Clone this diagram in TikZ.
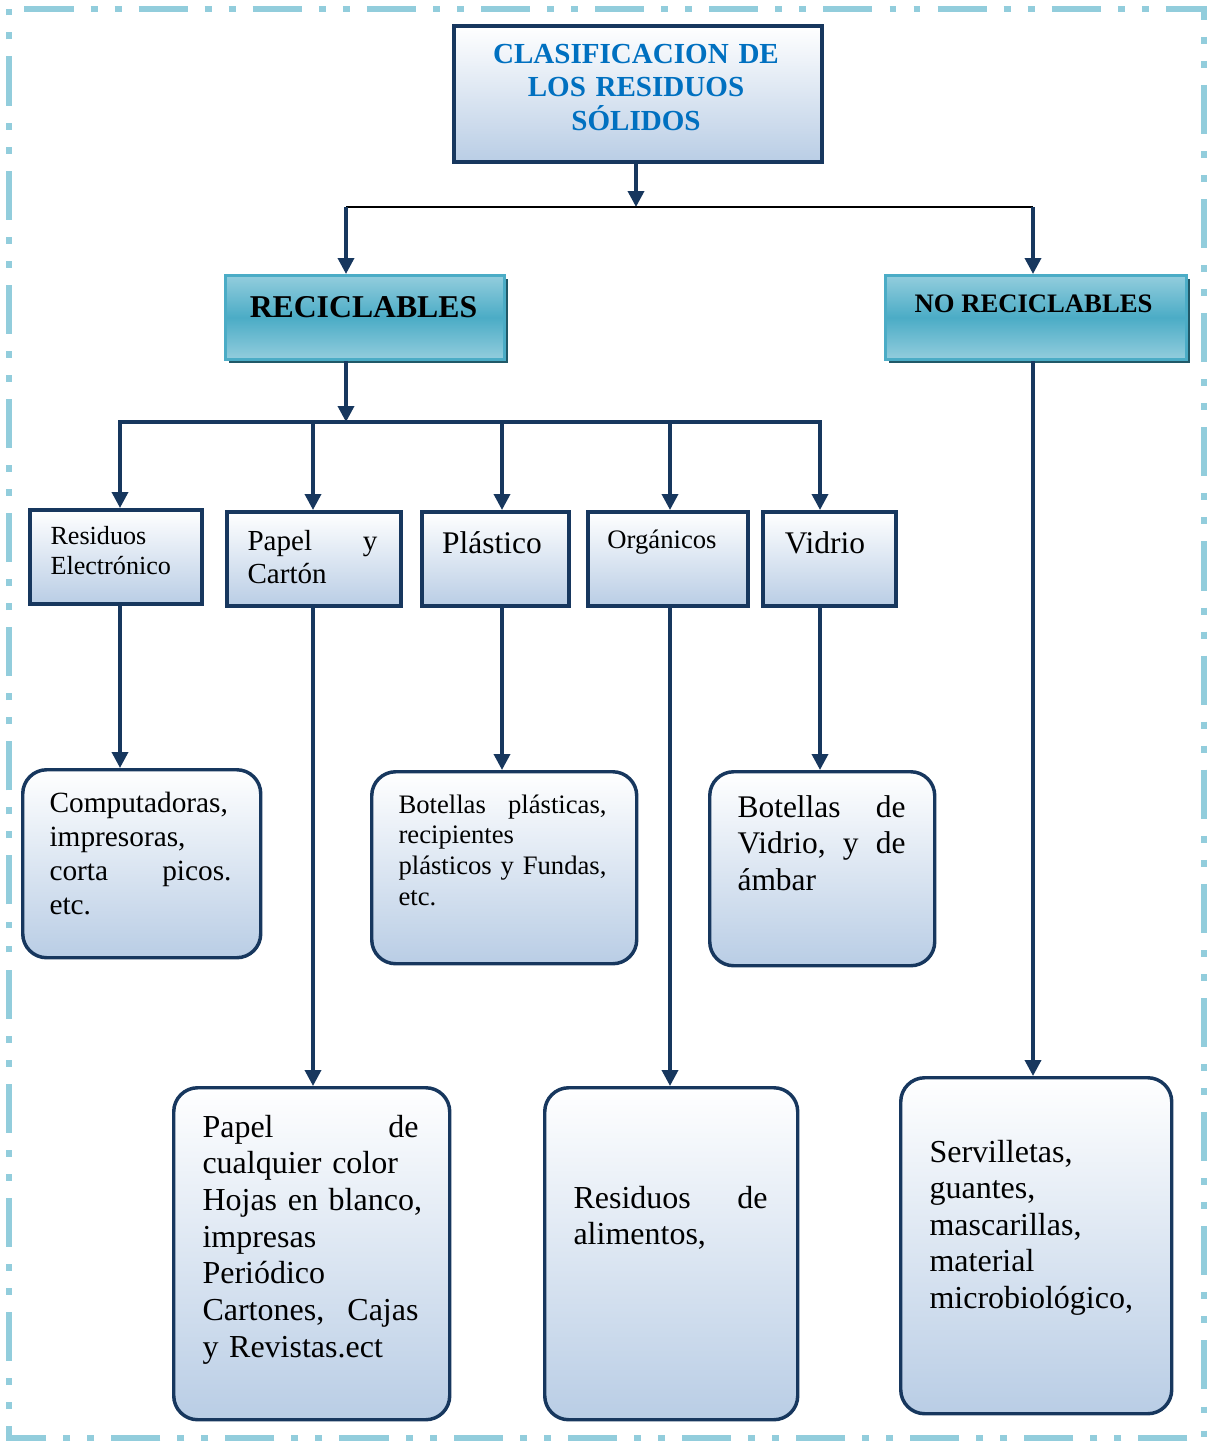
\documentclass[tikz,border=0pt]{standalone}
\usepackage{fontspec}
\setmainfont{Liberation Serif}
\usetikzlibrary{arrows.meta,shadows}
\definecolor{navy}{HTML}{17375E}
\definecolor{fillb}{HTML}{B9CDE5}
\definecolor{tealL}{HTML}{93CDDD}
\definecolor{tealD}{HTML}{4BACC6}
\definecolor{tealS}{HTML}{215968}
\definecolor{dashc}{HTML}{92CDDC}
\definecolor{titlec}{HTML}{0070C0}
\begin{document}
\begin{tikzpicture}[x=0.375pt,y=-0.375pt,
  sqbox/.style={draw=navy, line width=1.4pt, top color=white, bottom color=fillb, inner sep=0pt, anchor=north west},
  rbox/.style={sqbox, line width=1.3pt, rounded corners=9pt},
  tbox/.style={draw=tealD, line width=1.1pt, top color=tealL, bottom color=tealL, middle color=tealD, inner sep=0pt, anchor=north west,
     drop shadow={shadow xshift=1.5pt, shadow yshift=-1.5pt, fill=tealS, opacity=1}},
  arr/.style={draw=navy, line width=1.35pt, -{Triangle[length=6pt,width=6pt]}},
  txt/.style={inner sep=0pt, anchor=base west, align=left},
  ctxt/.style={inner sep=0pt, anchor=base, align=center},
]
\useasboundingbox (0,0) rectangle (1208,1442);
\draw[dashc, line width=2.25pt, dash pattern=on 18.4pt off 6.4pt on 2.6pt off 6.4pt on 2.6pt off 6.4pt, dash phase=37pt]
  (9,9) -- (1204,9) -- (1204,1438) -- (9,1438) -- cycle;

% boxes
\node[sqbox, line width=1.6pt, minimum width=368*0.375pt, minimum height=136*0.375pt] (title) at (452,24) {};
\node[tbox, minimum width=279*0.375pt, minimum height=84*0.375pt] (rec) at (224,274) {};
\node[tbox, minimum width=301*0.375pt, minimum height=84*0.375pt] (norec) at (884,274) {};
\node[sqbox, minimum width=172*0.375pt, minimum height=94*0.375pt] (e1) at (28,508) {};
\node[sqbox, minimum width=174*0.375pt, minimum height=94*0.375pt] (e2) at (225,510) {};
\node[sqbox, minimum width=147*0.375pt, minimum height=94*0.375pt] (e3) at (420,510) {};
\node[sqbox, minimum width=160*0.375pt, minimum height=94*0.375pt] (e4) at (586,510) {};
\node[sqbox, minimum width=133*0.375pt, minimum height=94*0.375pt] (e5) at (761,510) {};
\node[rbox, minimum width=238*0.375pt, minimum height=188*0.375pt] (r1) at (21,768) {};
\node[rbox, minimum width=265*0.375pt, minimum height=192*0.375pt] (r2) at (370,770) {};
\node[rbox, minimum width=225*0.375pt, minimum height=194*0.375pt] (r3) at (708,770) {};
\node[rbox, minimum width=276*0.375pt, minimum height=332*0.375pt] (r4) at (172,1086) {};
\node[rbox, minimum width=253*0.375pt, minimum height=332*0.375pt] (r5) at (543,1086) {};
\node[rbox, minimum width=271*0.375pt, minimum height=336*0.375pt] (r6) at (899,1076) {};

% texts
\node[ctxt, text width=330*0.375pt, text=titlec, font=\fontsize{10.9}{12.6}\selectfont\bfseries] (titlet) at (636,63)
  {CLASIFICACION DE\\LOS RESIDUOS\\SÓLIDOS};
\node[ctxt, font=\fontsize{11.9}{14}\selectfont\bfseries] (rect) at (363.5,317) {RECICLABLES};
\node[ctxt, font=\fontsize{10}{12}\selectfont\bfseries] (norect) at (1033.5,312) {NO RECICLABLES};
\node[txt, text width=140*0.375pt, font=\fontsize{9.8}{11.25}\selectfont] (e1t) at (50,544) {Residuos\\Electrónico};
\node[txt, text width=130*0.375pt, font=\fontsize{10.9}{12.4}\selectfont] (e2t) at (247,550) {Papel\hfill y\\Cartón};
\node[ctxt, font=\fontsize{11.8}{14}\selectfont] (e3t) at (492,553) {Plástico};
\node[ctxt, font=\fontsize{10}{12}\selectfont] (e4t) at (662,548) {Orgánicos};
\node[ctxt, font=\fontsize{11.8}{14}\selectfont] (e5t) at (825,553) {Vidrio};
\node[txt, text width=182*0.375pt, font=\fontsize{11}{12.75}\selectfont] (r1t) at (49,812)
  {\mbox{Computadoras,}\\impresoras,\\corta\hfill picos.\\etc.};
\node[txt, text width=208*0.375pt, font=\fontsize{10}{11.6}\selectfont] (r2t) at (398,813)
  {Botellas\hfill plásticas,\\recipientes\\plásticos\hfill y\hfill Fundas,\\etc.};
\node[txt, text width=168*0.375pt, font=\fontsize{11.8}{13.7}\selectfont] (r3t) at (737,817)
  {Botellas\hfill de\\Vidrio,\hfill y\hfill de\\ámbar};
\node[txt, text width=216*0.375pt, font=\fontsize{12}{13.76}\selectfont] (r4t) at (202,1137)
  {Papel\hfill de\\\mbox{cualquier color}\\\mbox{Hojas en blanco,}\\impresas\\Periódico\\Cartones,\hfill Cajas\\\mbox{y Revistas.ect}};
\node[txt, text width=194*0.375pt, font=\fontsize{12}{13.76}\selectfont] (r5t) at (573,1208)
  {Residuos\hfill de\\alimentos,};
\node[txt, text width=212*0.375pt, font=\fontsize{12}{13.7}\selectfont] (r6t) at (929,1162)
  {Servilletas,\\guantes,\\mascarillas,\\material\\\mbox{microbiológico,}};

% connectors
\coordinate (ja) at (636,207);
\coordinate (jl) at (346,207);
\coordinate (jr) at (1033,207);
\coordinate (jm) at (346,422);
\coordinate (c1) at (120,422);
\coordinate (c2) at (313,422);
\coordinate (c3) at (502,422);
\coordinate (c4) at (670,422);
\coordinate (c5) at (820,422);

\draw[arr] (ja |- title.south) -- (ja);
\draw[black, line width=0.8pt] (jl) -- (jr);
\draw[arr] (jl) -- (jl |- rec.north);
\draw[arr] (jr) -- (jr |- norec.north);
\draw[arr] (jm |- rec.south) -- (jm);
\draw[navy, line width=1.35pt, {Triangle[length=6pt,width=6pt]}-{Triangle[length=6pt,width=6pt]}]
  (c1 |- e1.north) -- (c1) -- (c5) -- (c5 |- e5.north);
\draw[arr] (c2) -- (c2 |- e2.north);
\draw[arr] (c3) -- (c3 |- e3.north);
\draw[arr] (c4) -- (c4 |- e4.north);

\draw[arr] (c1 |- e1.south) -- (c1 |- r1.north);
\draw[arr] (c2 |- e2.south) -- (c2 |- r4.north);
\draw[arr] (c3 |- e3.south) -- (c3 |- r2.north);
\draw[arr] (c4 |- e4.south) -- (c4 |- r5.north);
\draw[arr] (c5 |- e5.south) -- (c5 |- r3.north);
\draw[arr] (jr |- norec.south) -- (jr |- r6.north);
\end{tikzpicture}
\end{document}
